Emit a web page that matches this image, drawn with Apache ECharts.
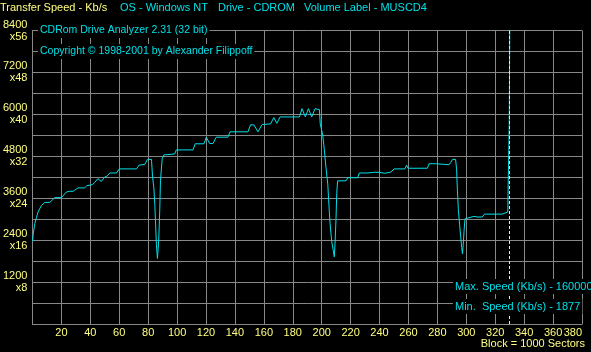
<!DOCTYPE html>
<html><head><meta charset="utf-8">
<script src="https://cdn.jsdelivr.net/npm/echarts@6/dist/echarts.min.js"></script>
<style>html,body{margin:0;padding:0;background:#000;}#c{width:591px;height:352px;}</style>
</head><body><div id="c"></div>
<script>
// Block numbers (x 1000 sectors)
const blocks = [0,0.6,1.6,2.8,3.9,5.0,6.2,7.3,8.5,12.0,13.1,15.4,20.0,21.1,23.5,24.6,25.8,28.1,29.9,31.5,36.1,37.7,38.4,41.4,43.0,45.2,47.6,49.9,51.5,53.5,58.1,60.0,71.9,73.8,77.7,79.5,82.3,83.0,83.9,84.6,85.7,86.4,87.3,88.0,88.5,89.7,90.8,98.3,99.5,111.0,112.5,118.6,120.2,122.5,124.8,127.1,135.2,136.6,149.0,150.8,153.1,155.9,158.8,164.6,166.9,169.0,171.2,184.6,186.4,188.7,190.8,193.1,195.4,198.4,199.0,200.7,201.8,203.0,204.2,204.8,205.7,206.9,208.0,208.7,209.2,209.9,210.4,211.0,216.8,218.0,224.9,226.0,231.7,232.2,236.3,239.7,240.2,243.7,244.4,247.8,249.0,250.1,257.5,258.7,259.7,273.1,274.2,279.5,280.4,288.0,289.2,290.4,292.6,293.3,293.8,294.5,295.4,296.1,296.8,297.3,297.9,298.4,299.1,299.5,305.3,306.4,307.6,311.0,312.6,324.8,325.9,328.7,329.0,329.4,329.7,330.1];
// Transfer speed, Kb/s
const speeds = [2373,2601,2873,3053,3208,3297,3389,3444,3480,3480,3526,3616,3616,3670,3779,3825,3798,3798,3852,3896,3896,3960,4004,3988,4050,4160,4080,4205,4230,4322,4322,4439,4439,4548,4567,4711,4711,4233,3914,3417,2283,1877,2373,3235,4097,4730,4839,4866,4983,4983,5157,5157,5347,5165,5165,5347,5347,5500,5500,5700,5700,5500,5709,5727,5907,5744,5926,5926,6163,5926,6163,5926,6163,6135,5727,5410,4993,4458,4004,3553,2917,2373,2101,1922,2283,3009,3732,4097,4097,4186,4186,4322,4322,4300,4341,4341,4314,4314,4349,4349,4322,4439,4439,4548,4458,4458,4586,4586,4558,4558,4620,4711,4711,4413,3868,3281,2827,2509,2193,2012,2283,2645,3009,3053,3080,3100,3062,3062,3145,3145,3189,3207,4097,5002,5771,9000];
const yTicks = [1200,2400,3600,4800,6000,7200,8400];
const yFactors = ['x8','x16','x24','x32','x40','x48','x56'];
const endBlock = 330;

const YEL = '#FFFF80', CY = '#00E0E8', GR = '#888888';
const FONT = 'Liberation Sans, Arial, sans-serif';
const chart = echarts.init(document.getElementById('c'), null, {renderer:'canvas'});
const boxTxt = (x, y, s, size) => ({type:'text', x, y, z:100,
  style:{text:s, fill:CY, font:size + 'px ' + FONT, backgroundColor:'#000', padding:[2,2,2,2]}});
const plainTxt = (x, y, s, color) => ({type:'text', x, y, z:100,
  style:{text:s, fill:color, font:'11px ' + FONT}});
chart.setOption({
  backgroundColor:'#000',
  animation:false,
  grid:{left:31, right:9, top:15, bottom:28},
  xAxis:{type:'value', min:0, max:380, interval:20,
    axisLine:{show:true, lineStyle:{color:GR}}, axisTick:{show:false},
    splitLine:{show:true, lineStyle:{color:GR, width:1}},
    axisLabel:{color:YEL, fontSize:11, fontFamily:FONT, margin:3, showMinLabel:false, alignMaxLabel:'right'}},
  yAxis:{type:'value', min:0, max:8400, interval:600,
    axisLine:{show:true, lineStyle:{color:GR}}, axisTick:{show:false},
    splitLine:{show:true, lineStyle:{color:GR, width:1}},
    axisLabel:{color:YEL, fontSize:11, fontFamily:FONT, margin:5, lineHeight:12,
      verticalAlign:'middle', padding:[37,0,0,0], align:'right',
      formatter:v => { const i = yTicks.indexOf(v); return i < 0 ? '' : v + '\n' + yFactors[i]; }}},
  series:[{type:'line', data:blocks.map((b,i)=>[b, speeds[i]]), showSymbol:false, clip:true,
    lineStyle:{color:CY, width:1}, itemStyle:{color:CY},
    markLine:{silent:true, symbol:'none', label:{show:false},
      lineStyle:{color:'#e8e8e8', type:[3,2], width:1}, data:[{xAxis:endBlock}]}}],
  graphic:[
    plainTxt(0, 2, 'Transfer Speed - Kb/s', YEL),
    plainTxt(120, 2, 'OS - Windows NT', CY),
    plainTxt(218, 2, 'Drive - CDROM', CY),
    plainTxt(304, 2, 'Volume Label - MUSCD4', CY),
    boxTxt(38, 23, 'CDRom Drive Analyzer 2.31 (32 bit)', 10.5),
    boxTxt(38, 44, 'Copyright \u00A9 1998-2001 by Alexander Filippoff', 10.5),
    boxTxt(453, 279, 'Max. Speed (Kb/s) - 1600000', 11),
    boxTxt(453, 299, 'Min.  Speed (Kb/s) - 1877', 11),
    {type:'text', right:6, top:338, z:100, style:{text:'Block = 1000 Sectors', fill:YEL, font:'11px '+FONT}}
  ]
});
</script></body></html>
